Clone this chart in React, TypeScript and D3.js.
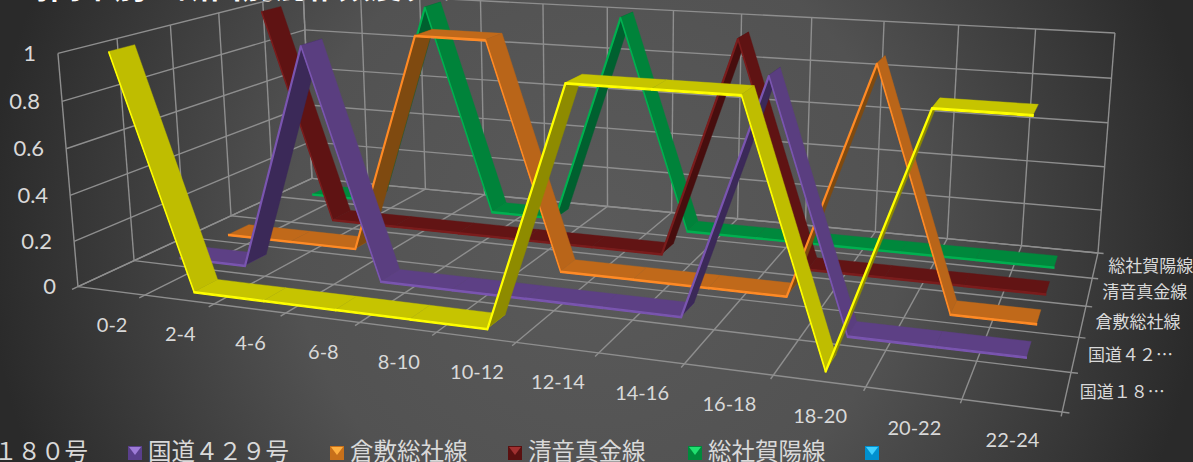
import React, { useEffect, useRef } from 'react';
import * as d3 from 'd3';

const categories = ['0-2', '2-4', '4-6', '6-8', '8-10', '10-12', '12-14', '14-16', '16-18', '18-20', '20-22', '22-24'];
const yTicks = [0, 0.2, 0.4, 0.6, 0.8, 1];
const seriesNames = ['国道１８０号', '国道４２９号', '倉敷総社線', '清音真金線', '総社賀陽線'];
const depthLabels = ['国道１８…', '国道４２…', '倉敷総社線', '清音真金線', '総社賀陽線'];
const route180 = [1, 0, 0, 0, 0, 0, 1, 1, 1, 0, 1, 1];
const route429 = [0, 0, 1, 0, 0, 0, 0, 0, 1, 0, 0, 0];
const kurashiki = [0, 0, 0, 1, 1, 0, 0, 0, 0, 1, 0, 0];
const kiyone = [1, 0, 0, 0, 0, 0, 0, 1, 0, 0, 0, 0];
const soja = [0, 0, 1, 0, 0, 1, 0, 0, 0, 0, 0, 0];
const seriesValues = [route180, route429, kurashiki, kiyone, soja];
const topColors = ['#c6c400', '#5d4085', '#c0691a', '#621414', '#00883c'];
const darkColors = ['#8e8b00', '#3b2958', '#7f4a10', '#470e0e', '#00602f'];
const edgeColors = ['#ffff00', '#7a55b0', '#ff8a25', '#7a1c1c', '#00b050'];
const legendBase = ['#a5a300', '#5a3f8c', '#c8701a', '#5a1010', '#008a3c', '#0090d0'];
const legendTip = ['#e8e640', '#9e7bd8', '#ffb040', '#a03030', '#20e070', '#40d0ff'];

// corners of the chart box: [x, value, depth] -> pixel position
const boxCorners: [number, number, number, number, number][] = [
  [0, 0, 0, 78, 287],
  [0, 1, 0, 58, 53],
  [0, 0, 1, 312, 178],
  [0, 1, 1, 303, -8],
  [1, 0, 0, 1062, 412],
  [1, 0, 1, 1098, 253],
  [1, 1, 1, 1115, 33],
];

// least squares fit of the perspective matrix
function fitCamera() {
  const rows: number[][] = [];
  boxCorners.forEach(([X, Y, Z, u, v]) => {
    rows.push([X, Y, Z, 1, 0, 0, 0, 0, -u * X, -u * Y, -u * Z, u]);
    rows.push([0, 0, 0, 0, X, Y, Z, 1, -v * X, -v * Y, -v * Z, v]);
  });
  const n = 11;
  const m = d3.range(n).map(i =>
    d3.range(n + 1).map(j => d3.sum(rows, r => r[i] * r[j]))
  );
  for (let i = 0; i < n; i++) {
    let p = i;
    for (let k = i + 1; k < n; k++) if (Math.abs(m[k][i]) > Math.abs(m[p][i])) p = k;
    [m[i], m[p]] = [m[p], m[i]];
    for (let k = 0; k < n; k++) {
      if (k === i) continue;
      const f = m[k][i] / m[i][i];
      for (let j = i; j <= n; j++) m[k][j] -= f * m[i][j];
    }
  }
  return m.map((r, i) => r[n] / r[i]);
}

const cam = fitCamera();
function project(X: number, Y: number, Z: number): [number, number] {
  const w = cam[8] * X + cam[9] * Y + cam[10] * Z + 1;
  return [
    (cam[0] * X + cam[1] * Y + cam[2] * Z + cam[3]) / w,
    (cam[4] * X + cam[5] * Y + cam[6] * Z + cam[7]) / w,
  ];
}

export default function App() {
  const svgRef = useRef<SVGSVGElement>(null);

  useEffect(() => {
    document.body.style.margin = '0';
    const svg = d3.select(svgRef.current);
    svg.selectAll('*').remove();

    const grad = svg.append('defs').append('radialGradient')
      .attr('id', 'bg').attr('gradientUnits', 'userSpaceOnUse')
      .attr('cx', 596).attr('cy', 231).attr('r', 610);
    grad.append('stop').attr('offset', '0%').attr('stop-color', '#5a5a5a');
    grad.append('stop').attr('offset', '50%').attr('stop-color', '#525252');
    grad.append('stop').attr('offset', '100%').attr('stop-color', '#2a2a2a');
    svg.append('rect').attr('width', 1193).attr('height', 462).attr('fill', 'url(#bg)');

    const xBand = d3.scaleBand<string>().domain(categories).range([0, 1]);
    const xMid = (i: number) => xBand(categories[i])! + xBand.bandwidth() / 2;
    const zBand = d3.scaleBand<string>().domain(seriesNames).range([0, 1]).paddingInner(0.55).paddingOuter(0.275);
    const yScale = d3.scaleLinear().domain([0, 1]).range([0, 1]);
    const line = d3.line();
    const font = 'Lato, "Open Sans", sans-serif';
    const cjk = '"Noto Sans CJK JP", sans-serif';

    // title, cut off by the top of the picture
    svg.append('text').attr('x', 18).attr('y', -2).attr('fill', '#ffffff')
      .attr('font-family', cjk).attr('font-weight', 700).attr('font-size', 32)
      .text('時間帯別・断面別混雑頻度グラフ');

    // walls and floor grid
    const grid = svg.append('g').attr('fill', 'none').attr('stroke', '#8e8e8e').attr('stroke-width', 1.4);
    const seg = (a: [number, number, number], b: [number, number, number]) =>
      grid.append('path').attr('d', line([project(...a), project(...b)]));
    const xEdges = d3.range(categories.length + 1).map(i => i / categories.length);
    const zEdges = d3.range(seriesNames.length + 1).map(i => i / seriesNames.length);
    yTicks.forEach(t => {
      seg([0, yScale(t), 0], [0, yScale(t), 1]);
      seg([0, yScale(t), 1], [1, yScale(t), 1]);
    });
    xEdges.forEach(x => {
      seg([x, 0, 1], [x, 1, 1]);
      seg([x, 0, -0.02], [x, 0, 1]);
    });
    zEdges.forEach(z => {
      seg([1, 0, z], [1.006, 0, z]);
      seg([0, 0, z], [1, 0, z]);
      seg([0, 0, z], [0, 1, z]);
    });

    // ribbons, back to front
    d3.range(seriesValues.length).reverse().forEach(s => {
      const z0 = zBand(seriesNames[s])!;
      const z1 = z0 + zBand.bandwidth();
      const g = svg.append('g');
      const vals = seriesValues[s];
      const lift = 0.006;
      vals.slice(1).forEach((v, k) => {
        const a = yScale(vals[k]);
        const b = yScale(v);
        const xa = xMid(k);
        const xb = xMid(k + 1);
        const rising = b > a;
        const falling = b < a;
        const fill = rising ? darkColors[s] : falling ? d3.color(topColors[s])!.darker(0.1).formatHex() : topColors[s];
        // top surface
        g.append('path')
          .attr('d', line([project(xa, a, z0), project(xb, b, z0), project(xb, b, z1), project(xa, a, z1)]) + 'Z')
          .attr('fill', fill)
          .attr('stroke', fill)
          .attr('stroke-width', 0.4);
        // thin bright front edge
        g.append('path')
          .attr('d', line([project(xa, a, z0), project(xb, b, z0), project(xb, b - lift, z0), project(xa, a - lift, z0)]) + 'Z')
          .attr('fill', edgeColors[s])
          .attr('stroke', edgeColors[s])
          .attr('stroke-width', rising ? 1.8 : 1.2);
      });
    });

    // value axis labels
    yTicks.forEach(t => {
      const [px, py] = project(0, yScale(t), 0);
      svg.append('text').attr('x', px - 22).attr('y', py + 2)
        .attr('text-anchor', 'end').attr('dominant-baseline', 'middle')
        .attr('fill', '#d9d9d9').attr('font-family', font).attr('font-size', 22)
        .text(String(t));
    });

    // category labels
    categories.forEach((c, i) => {
      const [px, py] = project(xMid(i), 0, 0);
      svg.append('text').attr('x', px + 1).attr('y', py + 36.5)
        .attr('text-anchor', 'middle').attr('dominant-baseline', 'middle')
        .attr('fill', '#d9d9d9').attr('font-family', font).attr('font-size', 20)
        .text(c);
    });

    // depth labels
    depthLabels.forEach((c, i) => {
      const [px, py] = project(1, 0, zBand(seriesNames[i])! + zBand.bandwidth() / 2);
      svg.append('text').attr('x', px + 13).attr('y', py + 2)
        .attr('dominant-baseline', 'middle')
        .attr('fill', '#d9d9d9').attr('font-family', cjk).attr('font-size', 17)
        .text(c);
    });

    // legend, first entry cut off at the left, last entry has no name
    const legendX = d3.scaleOrdinal<number, number>().domain(d3.range(6)).range([-73, 128, 330, 508, 688, 865]);
    legendBase.forEach((base, i) => {
      const x = legendX(i);
      const g = svg.append('g').attr('transform', `translate(${x},446)`);
      g.append('rect').attr('width', 14).attr('height', 14).attr('fill', base);
      g.append('path').attr('d', line([[1, 1], [13, 1], [7, 9]]) + 'Z').attr('fill', legendTip[i]);
      if (seriesNames[i]) {
        svg.append('text').attr('x', x + 20).attr('y', 460)
          .attr('fill', '#d9d9d9').attr('font-family', cjk).attr('font-size', 23.5)
          .text(seriesNames[i]);
      }
    });
  }, []);

  return <svg ref={svgRef} width={1193} height={462} style={{ display: 'block', position: 'absolute', left: 0, top: 0 }} />;
}
